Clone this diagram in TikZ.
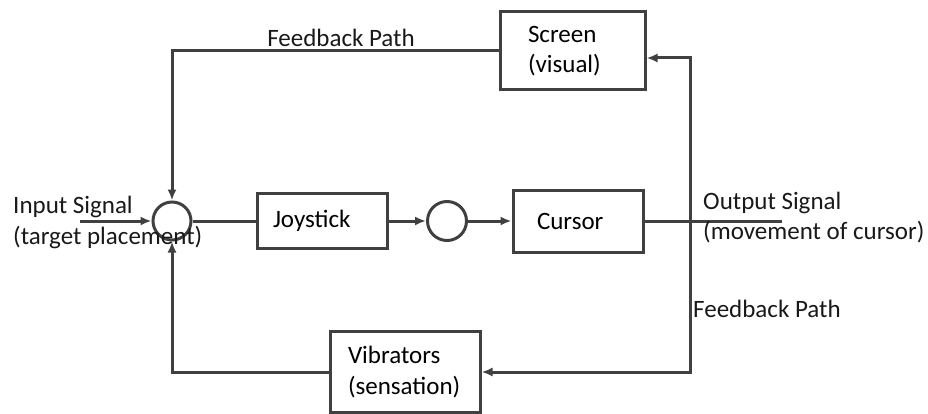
\documentclass[tikz,border=0pt]{standalone}
\usepackage{fontspec}
\setmainfont{Carlito}
\usetikzlibrary{arrows.meta,calc}
\begin{document}
\begin{tikzpicture}[x=1pt,y=-1pt,
  line/.style={draw=black!75, line width=3pt},
  arr/.style={line, -{Latex[length=11pt,width=9pt]}},
  blk/.style={line, rectangle, align=left, inner ysep=0pt},
  junc/.style={line, circle, inner sep=0pt, minimum size=38pt},
  lbl/.style={align=left, inner sep=0pt, text=black!90},
  every node/.style={font=\fontsize{25}{30.5}\selectfont}]
\useasboundingbox (0,0) rectangle (928,414);
% blocks
\node[junc] (sum) at (172,221) {};
\node[blk, minimum height=55pt, inner xsep=16pt, text width=98pt] (joy) at (322,221) {Joystick};
\node[junc, minimum size=39pt] (cmp) at (447,221) {};
\node[blk, minimum height=62pt, inner xsep=24pt, text width=82pt] (cur) at (578,221) {Cursor};
\node[blk, minimum height=78pt, inner xsep=28pt, text width=89pt] (scr) at (572.5,51) {Screen\\(visual)};
\node[blk, minimum height=81pt, inner xsep=18pt, text width=114pt] (vib) at (405,372) {Vibrators\\(sensation)};
% coordinates
\coordinate (in) at (80,221);
\coordinate (j) at (690,221);
\coordinate (out) at (782,221);
\coordinate (tr) at (690,58);
% connectors
\draw[arr] (in) -- (sum.west);
\draw[line] (sum.east) -- (joy.west);
\draw[arr] (joy.east) -- (cmp.west);
\draw[arr] (cmp.east) -- (cur.west);
\draw[line] (cur.east) -- (out);
\draw[arr] (j) -- (tr) -- (tr -| scr.east);
\draw[arr] (j) |- (vib.east);
\draw[arr] (scr.west) -| (sum.north);
\draw[arr] (vib.west) -| (sum.south);
% labels
\node[lbl, anchor=west] (inlbl) at (13,222.5) {Input Signal\\(target placement)};
\node[lbl, anchor=west] (outlbl) at (703,217.5) {Output Signal\\(movement of cursor)};
\node[lbl] (fbtop) at (341,38) {Feedback Path};
\node[lbl, anchor=west] (fbbot) at (693,309) {Feedback Path};
\end{tikzpicture}
\end{document}
